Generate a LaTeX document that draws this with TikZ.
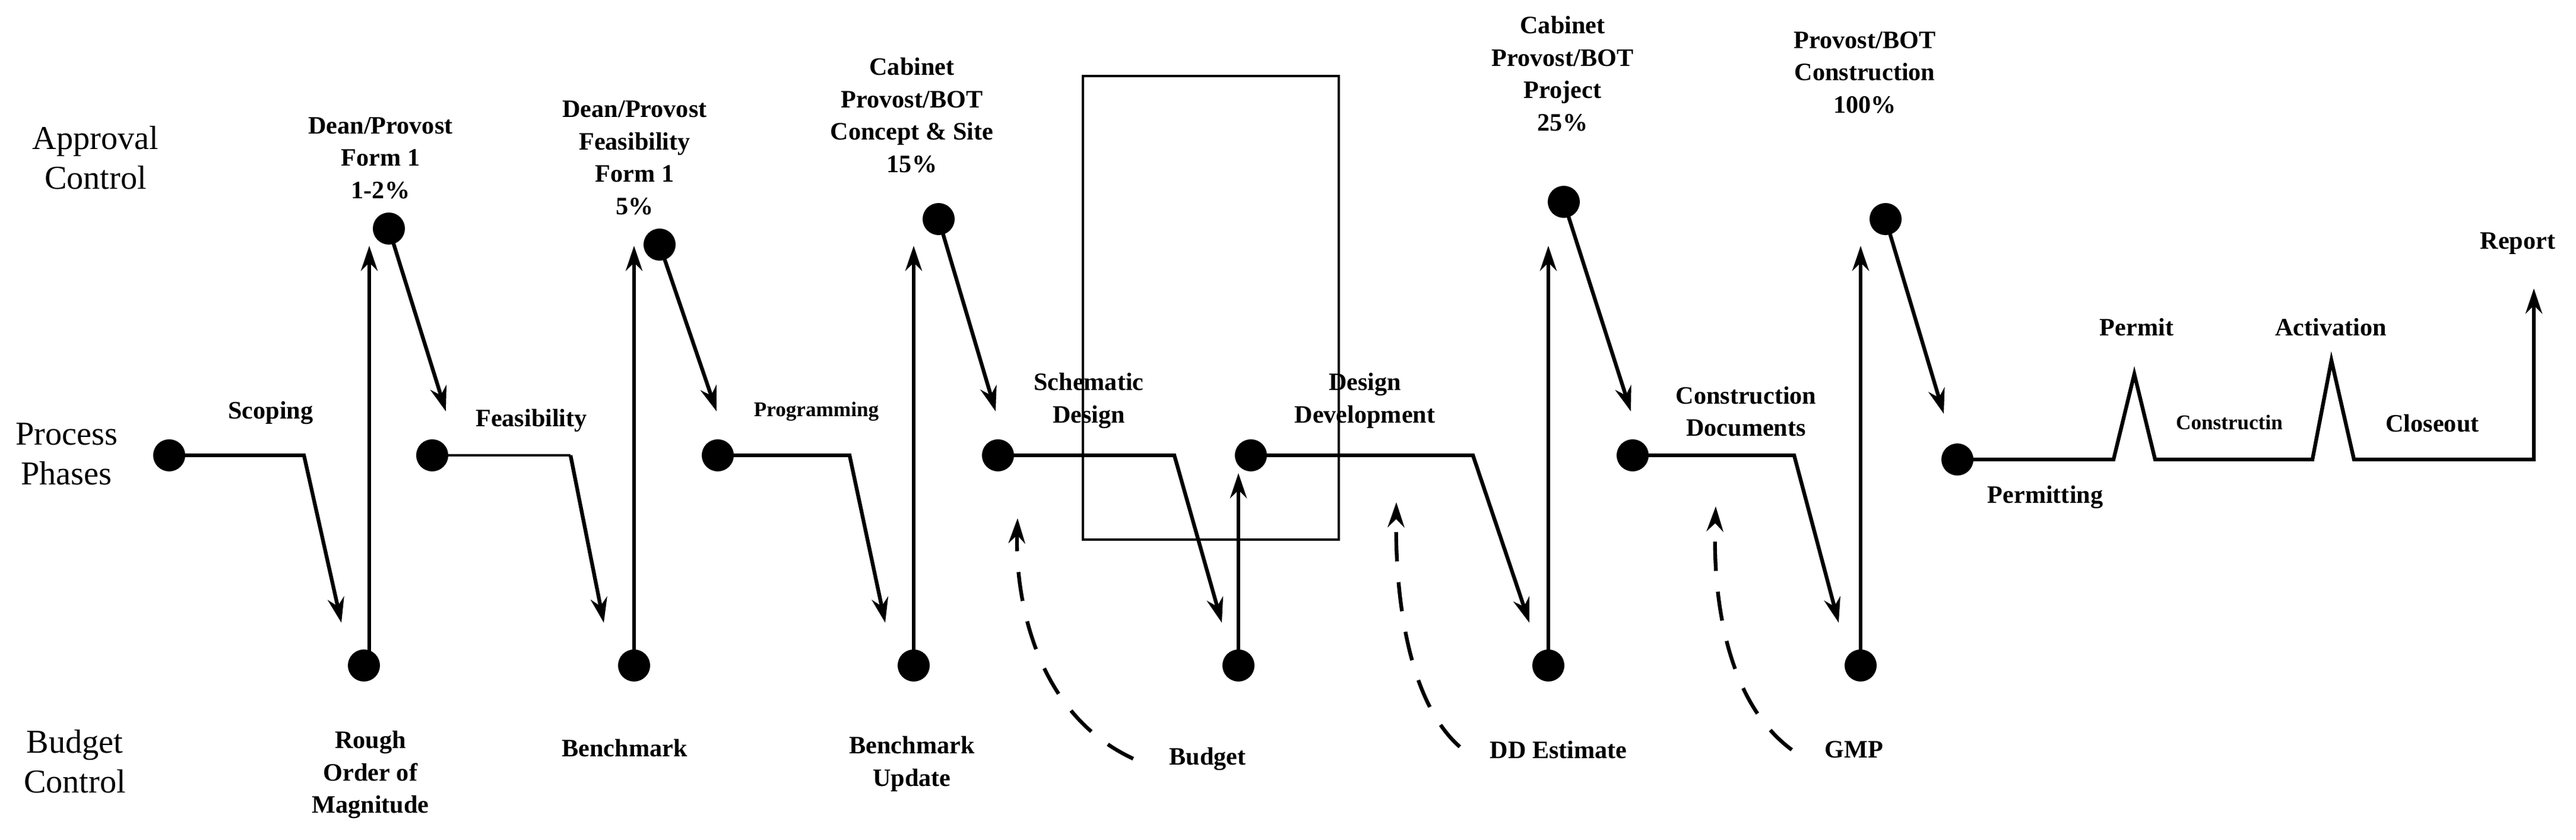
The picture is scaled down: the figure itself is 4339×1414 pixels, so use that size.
\documentclass[tikz,border=0pt]{standalone}
\usepackage{fontspec}
\setmainfont{Liberation Serif}
\usetikzlibrary{arrows.meta}
\begin{document}
\begin{tikzpicture}[x=0.01cm,y=-0.01cm,
 dot/.style={circle,fill=black,inner sep=0pt,minimum size=0.54cm},
 ln/.style={line width=1.8pt},
 arr/.style={line width=1.8pt,-{Stealth[length=12pt,width=8pt]}},
 dsh/.style={line width=1.8pt,dash pattern=on 14pt off 10pt,-{Stealth[length=12pt,width=8pt]}},
 lab/.style={font=\bfseries\fontsize{12}{15.5}\selectfont,align=center,inner sep=0pt},
 sml/.style={font=\bfseries\fontsize{10}{12}\selectfont,align=center,inner sep=0pt},
 side/.style={font=\fontsize{16}{19}\selectfont,align=center,inner sep=0pt}]
\useasboundingbox (0,0) rectangle (4339,1414);
% rectangle
\draw[line width=1.2pt] (1824,128) rectangle (2255,909);
% side labels
\node[side] (tA) at (161,266) {Approval\\Control};
\node[side] (tP) at (112,765) {Process\\Phases};
\node[side] (tB) at (126,1283) {Budget\\Control};
% dots
\node[dot] (p1) at (285,767) {};
\node[dot] (p2) at (728,767) {};
\node[dot] (p3) at (1209,767) {};
\node[dot] (p4) at (1681,767) {};
\node[dot] (p5) at (2107,767) {};
\node[dot] (p6) at (2750,767) {};
\node[dot] (p7) at (3297,774) {};
\node[dot] (b1) at (613,1121) {};
\node[dot] (b2) at (1068,1121) {};
\node[dot] (b3) at (1539,1121) {};
\node[dot] (b4) at (2086,1121) {};
\node[dot] (b5) at (2608,1121) {};
\node[dot] (b6) at (3134,1121) {};
\node[dot] (a1) at (655,385) {};
\node[dot] (a2) at (1111,412) {};
\node[dot] (a3) at (1581,369) {};
\node[dot] (a4) at (2634,340) {};
\node[dot] (a5) at (3176,369) {};
% free ends
\coordinate (e1) at (575,1049); \coordinate (e2) at (1017,1049);
\coordinate (e3) at (1491,1049); \coordinate (e4) at (2058,1049);
\coordinate (e5) at (2576,1049); \coordinate (e6) at (3097,1049);
\coordinate (u1) at (622,414); \coordinate (u2) at (1068,414);
\coordinate (u3) at (1539,414); \coordinate (u4) at (2086,797);
\coordinate (u5) at (2608,414); \coordinate (u6) at (3134,414);
\coordinate (d1) at (751,693); \coordinate (d2) at (1207,693);
\coordinate (d3) at (1677,693); \coordinate (d4) at (2747,693);
\coordinate (d5) at (3274,697); \coordinate (rp) at (4268,486);
% process lines
\draw[arr] (p1.center) -- (512,767) -- (e1);
\draw[line width=1pt] (p2.center) -- (961,767);
\draw[arr] (961,767) -- (e2);
\draw[arr] (p3.center) -- (1431,767) -- (e3);
\draw[arr] (p4.center) -- (1978,767) -- (e4);
\draw[arr] (p5.center) -- (2481,767) -- (e5);
\draw[arr] (p6.center) -- (3022,767) -- (e6);
\draw[arr] (p7.center) -- (3560,774) -- (3595,630) -- (3630,774) -- (3895,774) -- (3927,607) -- (3965,774) -- (4268,774) -- (rp);
% up arrows
\draw[arr] (b1.center) ++(9,0) -- (u1);
\draw[arr] (b2.center) -- (u2);
\draw[arr] (b3.center) -- (u3);
\draw[arr] (b4.center) -- (u4);
\draw[arr] (b5.center) -- (u5);
\draw[arr] (b6.center) -- (u6);
% down arrows
\draw[arr] (a1.center) -- (d1);
\draw[arr] (a2.center) -- (d2);
\draw[arr] (a3.center) -- (d3);
\draw[arr] (a4.center) -- (d4);
\draw[arr] (a5.center) -- (d5);
% labels
\node[lab] (l1) at (456,695) {Scoping};
\node[lab] (l2) at (895,708) {Feasibility};
\node[sml] (l3) at (1375,693) {Programming};
\node[lab] (l4) at (1834,675) {Schematic\\Design};
\node[lab] (l5) at (2299,675) {Design\\Development};
\node[lab] (l6) at (2941,693) {Construction\\Documents};
\node[lab] (l7) at (3445,837) {Permitting};
\node[lab] (l8) at (3599,551) {Permit};
\node[sml] (l9) at (3755,711) {Constructin};
\node[lab] (l10) at (3926,551) {Activation};
\node[lab] (l11) at (4097,713) {Closeout};
\node[lab] (l12) at (4241,410) {Report};
\node[lab] (q1) at (641,266) {Dean/Provost\\Form 1\\1-2\%};
\node[lab] (q2) at (1069,266) {Dean/Provost\\Feasibility\\Form 1\\5\%};
\node[lab] (q3) at (1536,194) {Cabinet\\Provost/BOT\\Concept \& Site\\15\%};
\node[lab] (q4) at (2632,124) {Cabinet\\Provost/BOT\\Project\\25\%};
\node[lab] (q5) at (3141,122) {Provost/BOT\\Construction\\100\%};
\node[lab] (r1) at (624,1305) {Rough\\Order of\\Magnitude};
\node[lab] (r2) at (1052,1260) {Benchmark};
\node[lab] (r3) at (1536,1287) {Benchmark\\Update};
\node[lab] (r4) at (2034,1278) {Budget};
\node[lab] (r5) at (2625,1263) {DD Estimate};
\node[lab] (r6) at (3123,1263) {GMP};
% dashed arrows
\draw[dsh] (r4.west) ++(-60,0) .. controls (1740,1200) and (1710,1000) .. (1714,873);
\draw[dsh] (r5.west) ++(-50,-5) .. controls (2370,1180) and (2350,1000) .. (2352,846);
\draw[dsh] (r6.west) ++(-55,0) .. controls (2905,1180) and (2885,1000) .. (2890,853);
\end{tikzpicture}
\end{document}
